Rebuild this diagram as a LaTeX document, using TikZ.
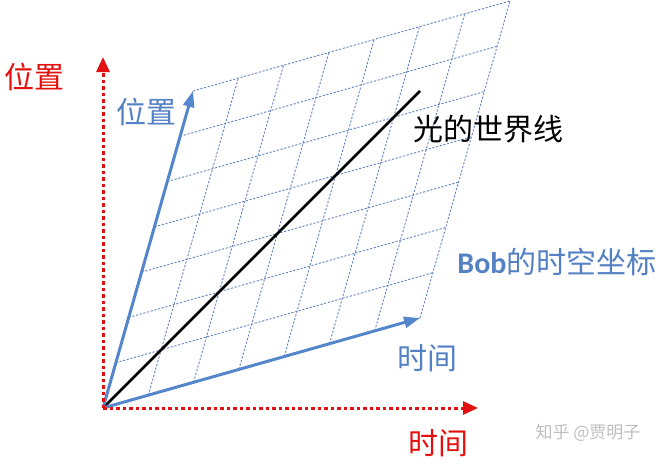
\documentclass[tikz,border=0pt]{standalone}
\usepackage{fontspec}
\newfontfamily\cjk{Noto Sans CJK SC}
\newfontfamily\lat{Carlito}
\usetikzlibrary{calc,arrows.meta}
\definecolor{axred}{RGB}{228,16,16}
\definecolor{axblue}{RGB}{84,134,204}
\definecolor{gridblue}{RGB}{98,132,194}
\definecolor{txtblue}{RGB}{84,128,196}
\definecolor{wmgray}{RGB}{190,190,190}
\begin{document}
\begin{tikzpicture}[x=1pt,y=-1pt,
  gridline/.style={draw=gridblue,line width=0.9pt,dash pattern=on 2.2pt off 1.6pt},
  redaxis/.style={draw=axred,line width=3pt,dash pattern=on 3.5pt off 3pt,
    -{Triangle[length=15pt,width=13pt,fill=axred]}},
  blueaxis/.style={draw=axblue,line width=3pt,
    -{Triangle[length=16pt,width=11pt,fill=axblue]}},
  lightline/.style={draw=black,line width=2.6pt},
  bigcjk/.style={inner sep=0pt,anchor=center,font=\cjk\fontsize{30}{32}\selectfont},
  wm/.style={inner sep=0pt,anchor=center,text=wmgray,font=\cjk\fontsize{17}{19}\selectfont}]
\useasboundingbox (0,0) rectangle (663,463);
\coordinate (O) at (103,408);
\coordinate (T) at (420,318);
\coordinate (P) at (193,91);
\coordinate (TP) at (510,1);
\coordinate (Ytip) at (103,57);
\coordinate (Xtip) at (478,408);
% Bob's grid
\foreach \i in {0,...,7} {
  \draw[gridline] ($(O)!\i/7!(T)$) -- ($(P)!\i/7!(TP)$);
  \draw[gridline] ($(O)!\i/7!(P)$) -- ($(T)!\i/7!(TP)$);
}
% light world line
\coordinate (L) at ($(O)!0.779!(TP)$);
\draw[lightline] (O) -- (L);
% Bob's axes
\draw[blueaxis] (O) -- (T);
\draw[blueaxis] (O) -- (P);
% rest frame axes
\draw[redaxis] (O) -- (Ytip);
\draw[redaxis] (O) -- (Xtip);
% labels
\node[bigcjk,text=axred] (ypos) at (35,77) {位置};
\node[bigcjk,text=txtblue] (bpos) at (146,112) {位置};
\node[bigcjk,text=black] (light) at (488,129) {光的世界线};
\node[bigcjk,text=txtblue] (bob) at (557,262) {{\lat\bfseries Bob}的时空坐标};
\node[bigcjk,text=txtblue] (btime) at (427,358) {时间};
\node[bigcjk,text=axred] (xtime) at (438,443) {时间};
\node[wm] (wmark) at (588,433) {知乎 @贾明子};
\end{tikzpicture}
\end{document}
